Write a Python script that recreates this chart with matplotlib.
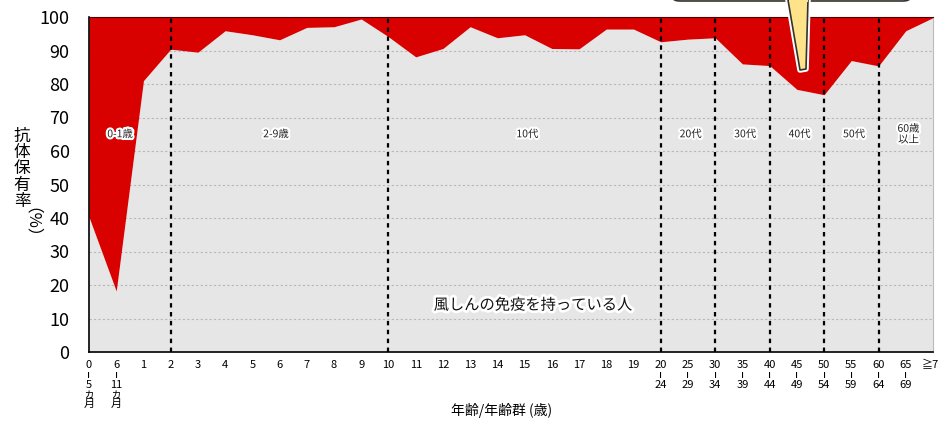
import matplotlib
matplotlib.use('Agg')
import matplotlib.pyplot as plt
import matplotlib.patheffects as pe
from matplotlib.patches import FancyBboxPatch, Polygon
import numpy as np

plt.rcParams['font.family'] = ['Noto Sans CJK JP', 'DejaVu Sans']

# --- datos ---
AGE_LABELS = (['0\nı\n5\nヵ\n月', '6\nı\n11\nヵ\n月']
              + [str(a) for a in range(1, 20)]
              + ['20\nı\n24', '25\nı\n29', '30\nı\n34', '35\nı\n39', '40\nı\n44',
                 '45\nı\n49', '50\nı\n54', '55\nı\n59', '60\nı\n64', '65\nı\n69', '≧70'])

RATE = [40.3, 18.2, 81.0, 90.4, 89.5, 95.9, 94.7, 93.2, 96.9, 97.1, 99.4,
        94.1, 88.1, 90.6, 97.1, 93.8, 94.7, 90.6, 90.5, 96.4, 96.4,
        92.6, 93.4, 93.8, 86.0, 85.5, 78.4, 76.8, 87.0, 85.4, 95.9, 99.8]

# categorias donde empieza cada grupo (lineas verticales)
GROUP_BREAKS = ['2', '10', '20\nı\n24', '30\nı\n34', '40\nı\n44', '50\nı\n54', '60\nı\n64']
GROUP_NAMES = ['0-1歳', '2-9歳', '10代', '20代', '30代', '40代', '50代', '60歳\n以上']
GROUP_POS = [1.14, 6.87, 16.1, 22.1, 24.1, 26.1, 28.1, 30.1]

W, H = 938, 421
fig = plt.figure(figsize=(W / 100, H / 100), dpi=100)
ax = fig.add_axes([89 / W, 1 - 352 / H, (933 - 89) / W, (352 - 17) / H])

x = np.arange(len(RATE))
ax.fill_between(x, 0, RATE, color='#e6e6e6', lw=0, zorder=1)
for yv in range(10, 100, 10):
    ax.axhline(yv, color='#b8b8b8', lw=0.8, ls=(0, (2, 2)), zorder=1.5)
ax.fill_between(x, RATE, 100, color='#d90000', lw=0, zorder=2)

ax.set_xlim(0, len(RATE) - 1)
ax.set_ylim(0, 100)
ax.set_yticks(range(0, 101, 10))

for b in GROUP_BREAKS:
    ax.axvline(AGE_LABELS.index(b), color='black', lw=1.6, ls=(0, (2, 2)), zorder=3)

ax.set_xticks(x)
ax.set_xticklabels(AGE_LABELS, fontsize=8, va='top', linespacing=0.95)
ax.tick_params(length=0)
ax.tick_params(axis='x', pad=6)
ax.tick_params(axis='y', labelsize=13, pad=14)

for s in ['left', 'bottom']:
    ax.spines[s].set_color('black')
    ax.spines[s].set_linewidth(1.2)
ax.spines['top'].set_color('#500000')
ax.spines['top'].set_linewidth(0.8)
ax.spines['right'].set_color('#bbbbbb')

stroke = [pe.withStroke(linewidth=3, foreground='white')]
for name, pos in zip(GROUP_NAMES, GROUP_POS):
    ax.text(pos, 65, name, fontsize=7.5, ha='center', va='center', color='#222222',
            linespacing=1.1, path_effects=stroke, zorder=5)

ax.text(16.3, 14, '風しんの免疫を持っている人', fontsize=11, ha='center', va='center',
        color='#111111', path_effects=[pe.withStroke(linewidth=4, foreground='white')], zorder=5)

# etiqueta eje y
fig.text(22 / W, 1 - 169 / H, '抗\n体\n保\n有\n率', fontsize=12, ha='center', va='center',
         linespacing=0.95)
fig.text(22 / W, 1 - 231 / H, '（%）', fontsize=12, ha='center', va='center', rotation=270)
fig.text(502 / W, 1 - 410 / H, '年齢/年齢群 (歳)', fontsize=10, ha='center', va='center')

# globo
def px(xp, yp):
    return (xp / W, 1 - yp / H)

bub = FancyBboxPatch(px(673, 1), (910 - 673) / W, 30 / H,
                     boxstyle='round,pad=0,rounding_size=0.008',
                     transform=fig.transFigure, facecolor='#ffe38a', edgecolor='#333333',
                     lw=1.2, zorder=10,
                     path_effects=[pe.withStroke(linewidth=4, foreground='white')])
fig.add_artist(bub)
tip = Polygon([px(788, 0), px(800, 70), px(806, 69), px(808, 0)], closed=True,
              transform=fig.transFigure, facecolor='#ffe38a', edgecolor='#333333', lw=1.2,
              zorder=11, joinstyle='round',
              path_effects=[pe.withStroke(linewidth=4, foreground='white')])
fig.add_artist(tip)
cover = Polygon([px(789, -3), px(807.5, -3), px(807.5, 2), px(789, 2)], closed=True,
                transform=fig.transFigure, facecolor='#ffe38a', lw=0, zorder=12)
fig.add_artist(cover)

fig.savefig('out.png', dpi=100)
